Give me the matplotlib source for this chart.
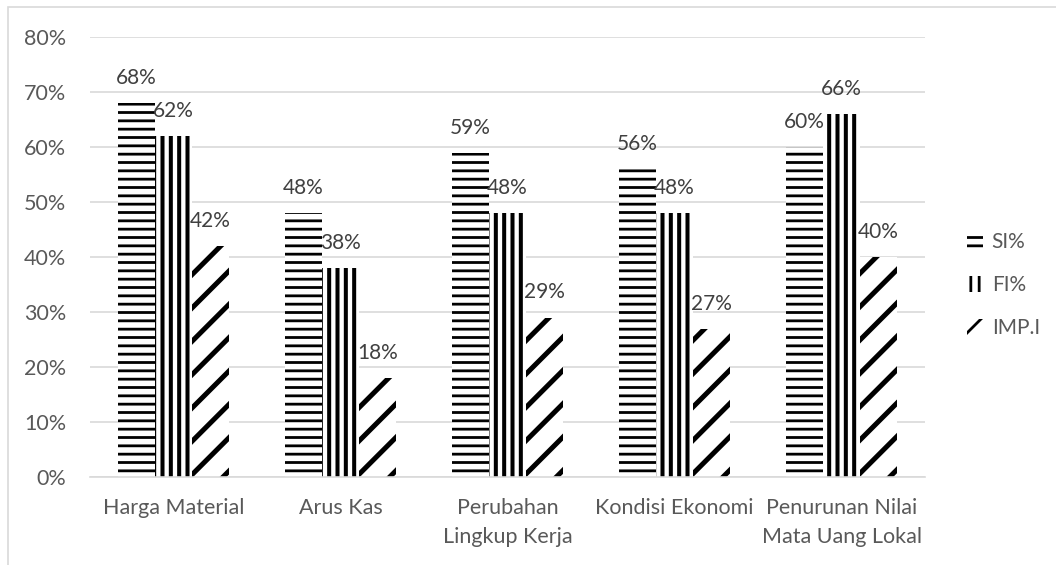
import matplotlib
matplotlib.use('Agg')
import numpy as np
from matplotlib import pyplot as plt
from matplotlib.patches import Rectangle

# data
kategori = ['Harga Material', 'Arus Kas', 'Perubahan\nLingkup Kerja',
            'Kondisi Ekonomi', 'Penurunan Nilai\nMata Uang Lokal']
si = [68, 48, 59, 56, 60]
fi = [62, 38, 48, 48, 66]
imp = [42, 18, 29, 27, 40]
nama_seri = ['SI%', 'FI%', 'IMP.I']
yticks = [0, 10, 20, 30, 40, 50, 60, 70, 80]

plt.rcParams['font.family'] = ['Lato', 'DejaVu Sans']
plt.rcParams['hatch.linewidth'] = 2.0

W, H = 1056, 565
fig = plt.figure(figsize=(W / 100, H / 100), dpi=100)
ax = fig.add_axes([90 / W, (H - 477) / H, (925 - 90) / W, (477 - 37) / H])

x = np.arange(len(kategori))
lebar = 0.222
pola = ['--', '||', '/']
tebal = [2.0, 2.9, 3.6]

for i, (nilai, hatch) in enumerate(zip([si, fi, imp], pola)):
    bars = ax.bar(x + (i - 1) * lebar, nilai, lebar, color='white',
                  edgecolor='black', linewidth=0, hatch=hatch,
                  label=nama_seri[i], zorder=2)
    for b in bars:
        if hasattr(b, 'set_hatch_linewidth'):
            b.set_hatch_linewidth(tebal[i])
    for b, v in zip(bars, nilai):
        ax.annotate(f'{v}%', (b.get_x() + b.get_width() / 2, v),
                    xytext=(0, 18), textcoords='offset points',
                    ha='center', va='center', fontsize=15, color='#404040',
                    zorder=3)

ax.set_ylim(0, 80)
ax.set_xlim(-0.5, len(kategori) - 0.5)
ax.set_yticks(yticks)
ax.set_yticklabels([f'{t}%' for t in yticks])
ax.set_xticks(x)
ax.set_xticklabels(kategori, linespacing=1.6)
ax.yaxis.grid(True, color='#d9d9d9', linewidth=1.2, zorder=0)
ax.set_axisbelow(True)
for s in ['top', 'right', 'left']:
    ax.spines[s].set_visible(False)
ax.spines['bottom'].set_color('#d9d9d9')
ax.spines['bottom'].set_linewidth(1.2)
ax.tick_params(axis='both', length=0, labelsize=15.5, labelcolor='#595959')
ax.tick_params(axis='y', pad=17)
ax.tick_params(axis='x', pad=15)

leg = fig.legend(loc='center left', bbox_to_anchor=(948 / W, 1 - 285 / H),
                 frameon=False, fontsize=15, handlelength=0.8,
                 handleheight=0.8, handletextpad=0.4, labelspacing=1.1)
for t in leg.get_texts():
    t.set_color('#595959')

# bingkai luar
fig.patches.append(Rectangle((8 / W, -0.1), 1.2, 1.1 - 7 / H,
                             transform=fig.transFigure, fill=False,
                             edgecolor='#d9d9d9', linewidth=1.2))

fig.savefig('out.png', dpi=100)
